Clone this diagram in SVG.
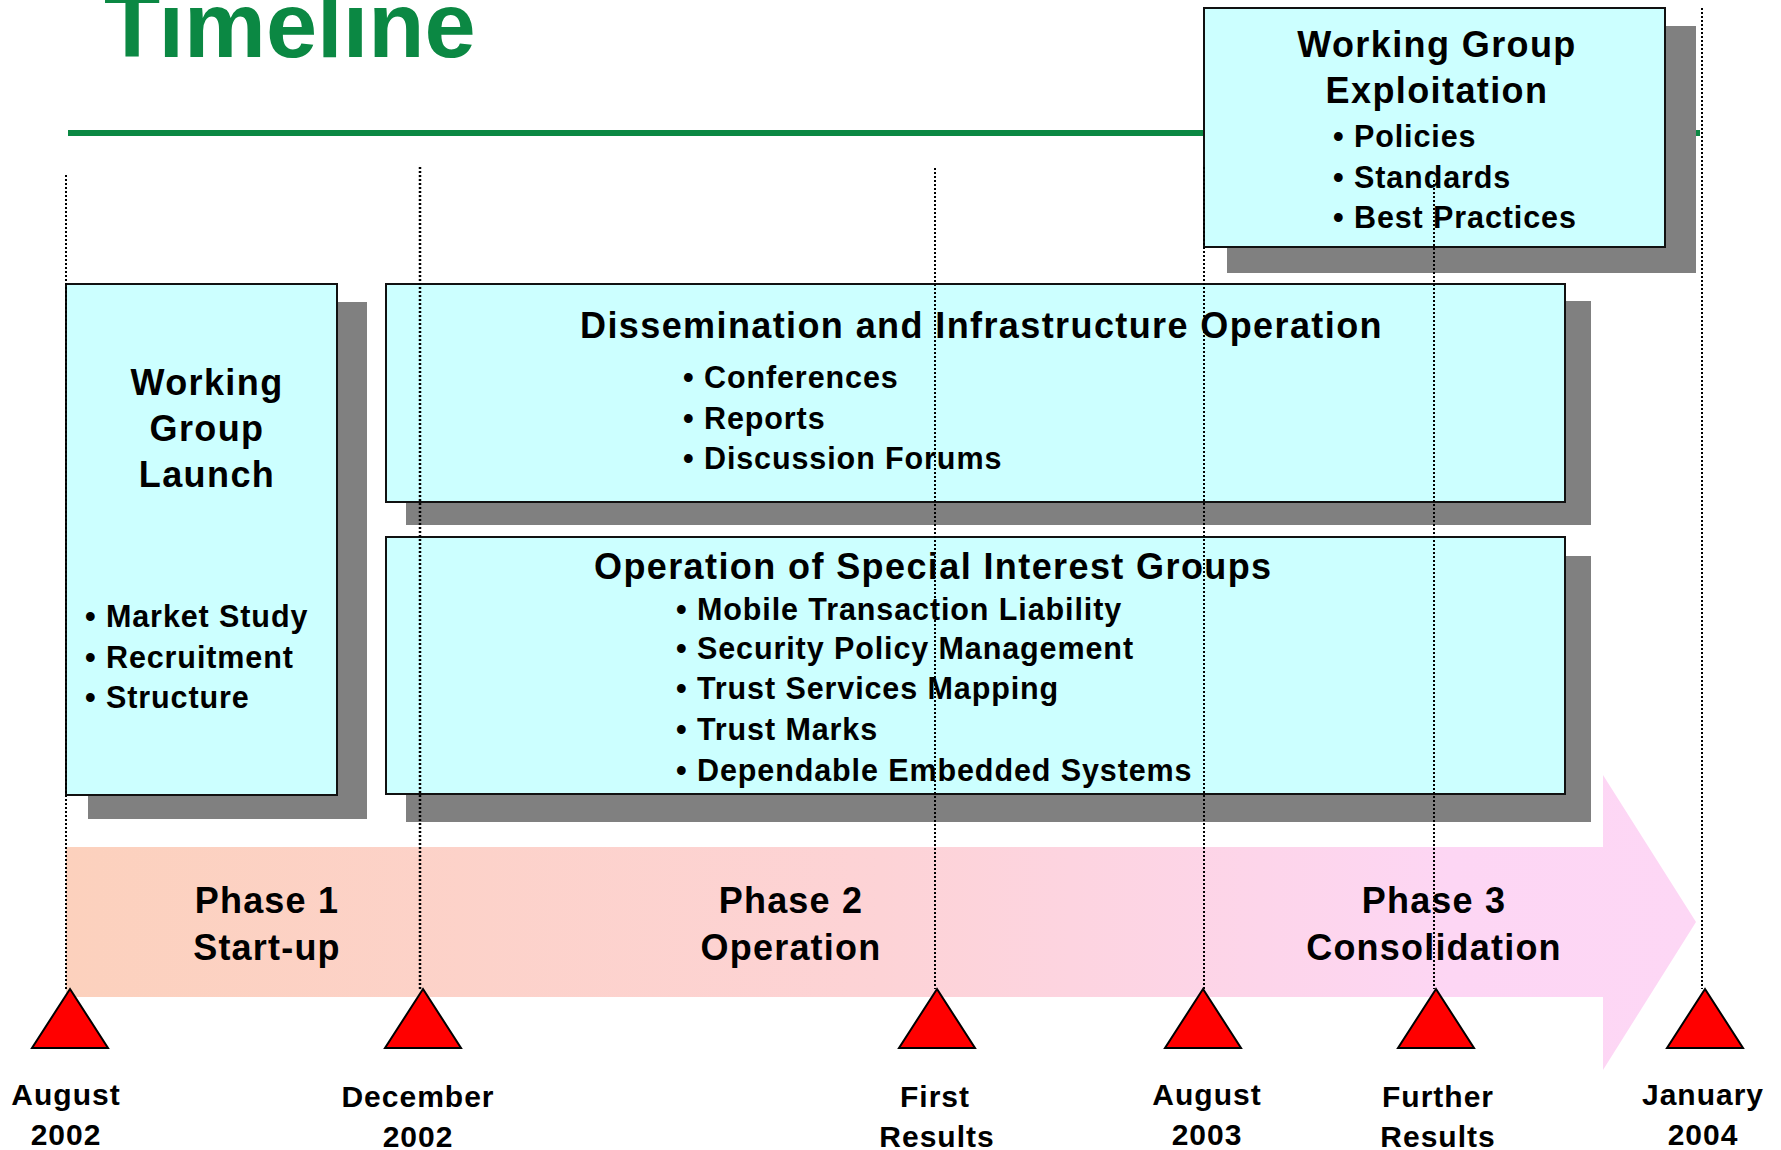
<svg xmlns="http://www.w3.org/2000/svg" width="1781" height="1150" viewBox="0 0 1781 1150">
<defs>
<linearGradient id="bandGrad" gradientUnits="userSpaceOnUse" x1="66" y1="0" x2="1696" y2="0">
<stop offset="0" stop-color="#FCD1BD"/>
<stop offset="0.5" stop-color="#FDD3D6"/>
<stop offset="0.85" stop-color="#FDD6F4"/>
<stop offset="1" stop-color="#FDD7F5"/>
</linearGradient>
</defs>
<style>
text{font-family:"Liberation Sans",Arial,sans-serif;font-weight:bold;fill:#000}
.shadow{fill:#808080}
.box{fill:#CCFFFF;stroke:#111;stroke-width:2}
.ttl{font-size:36px;letter-spacing:1.4px}
.blt{font-size:30.5px;letter-spacing:0.9px}
.phase{font-size:36px;letter-spacing:1.2px;text-anchor:middle}
.date{font-size:30px;letter-spacing:1px;text-anchor:middle}
.mid{text-anchor:middle}
.dot{stroke:#000;stroke-width:2;stroke-dasharray:2 2;fill:none}
.tri{fill:#FF0000;stroke:#000;stroke-width:2;stroke-linejoin:miter}
</style>
<rect width="1781" height="1150" fill="#fff"/>

<g id="title">
<text x="104" y="57" style="font-size:92px;fill:#0B8843">Timeline</text>
<rect x="68" y="130" width="1632" height="6" fill="#0B8843"/>
</g>

<g id="phase-band">
<path d="M66,847 H1603 V775 L1696,922 L1603,1070 V997 H66 Z" fill="url(#bandGrad)"/>
<text class="phase" x="267" y="913">Phase 1</text>
<text class="phase" x="267" y="960">Start-up</text>
<text class="phase" x="791" y="913">Phase 2</text>
<text class="phase" x="791" y="960">Operation</text>
<text class="phase" x="1434" y="913">Phase 3</text>
<text class="phase" x="1434" y="960">Consolidation</text>
</g>

<g id="wg-launch">
<rect class="shadow" x="88" y="302" width="279" height="517"/>
<rect class="box" x="66" y="284" width="271" height="511"/>
<text class="ttl mid" x="207" y="395">Working</text>
<text class="ttl mid" x="207" y="441">Group</text>
<text class="ttl mid" x="207" y="487">Launch</text>
<text class="blt" x="85" y="627">• Market Study</text>
<text class="blt" x="85" y="668">• Recruitment</text>
<text class="blt" x="85" y="708">• Structure</text>
</g>

<g id="dissemination">
<rect class="shadow" x="406" y="301" width="1185" height="224"/>
<rect class="box" x="386" y="284" width="1179" height="218"/>
<text class="ttl" x="580" y="338">Dissemination and Infrastructure Operation</text>
<text class="blt" x="683" y="388">• Conferences</text>
<text class="blt" x="683" y="429">• Reports</text>
<text class="blt" x="683" y="469">• Discussion Forums</text>
</g>

<g id="sig-operation">
<rect class="shadow" x="406" y="556" width="1185" height="266"/>
<rect class="box" x="386" y="537" width="1179" height="257"/>
<text class="ttl" x="594" y="579">Operation of Special Interest Groups</text>
<text class="blt" x="676" y="620">• Mobile Transaction Liability</text>
<text class="blt" x="676" y="659">• Security Policy Management</text>
<text class="blt" x="676" y="699">• Trust Services Mapping</text>
<text class="blt" x="676" y="740">• Trust Marks</text>
<text class="blt" x="676" y="781">• Dependable Embedded Systems</text>
</g>

<g id="wg-exploitation">
<rect class="shadow" x="1227" y="26" width="469" height="247"/>
<rect class="box" x="1204" y="8" width="461" height="239"/>
<text class="ttl mid" x="1437" y="57">Working Group</text>
<text class="ttl mid" x="1437" y="103">Exploitation</text>
<text class="blt" x="1333" y="147">• Policies</text>
<text class="blt" x="1333" y="188">• Standards</text>
<text class="blt" x="1333" y="228">• Best Practices</text>
</g>

<g id="connectors">
<line class="dot" x1="66" y1="175" x2="66" y2="989"/>
<line class="dot" x1="420" y1="167" x2="420" y2="989" style="stroke-width:2.5"/>
<line class="dot" x1="935" y1="168" x2="935" y2="989"/>
<line class="dot" x1="1204" y1="167" x2="1204" y2="989"/>
<line class="dot" x1="1434" y1="180" x2="1434" y2="989"/>
<line class="dot" x1="1702" y1="8" x2="1702" y2="989"/>
</g>

<g id="m-aug2002">
<polygon class="tri" points="70,989 108,1048 32,1048"/>
<text class="date" x="66" y="1105">August</text>
<text class="date" x="66" y="1145">2002</text>
</g>
<g id="m-dec2002">
<polygon class="tri" points="423,989 461,1048 385,1048"/>
<text class="date" x="418" y="1107">December</text>
<text class="date" x="418" y="1147">2002</text>
</g>
<g id="m-first-results">
<polygon class="tri" points="937,989 975,1048 899,1048"/>
<text class="date" x="935" y="1107">First</text>
<text class="date" x="937" y="1147">Results</text>
</g>
<g id="m-aug2003">
<polygon class="tri" points="1203,989 1241,1048 1165,1048"/>
<text class="date" x="1207" y="1105">August</text>
<text class="date" x="1207" y="1145">2003</text>
</g>
<g id="m-further-results">
<polygon class="tri" points="1436,989 1474,1048 1398,1048"/>
<text class="date" x="1438" y="1107">Further</text>
<text class="date" x="1438" y="1147">Results</text>
</g>
<g id="m-jan2004">
<polygon class="tri" points="1705,989 1743,1048 1667,1048"/>
<text class="date" x="1703" y="1105">January</text>
<text class="date" x="1703" y="1145">2004</text>
</g>
</svg>
